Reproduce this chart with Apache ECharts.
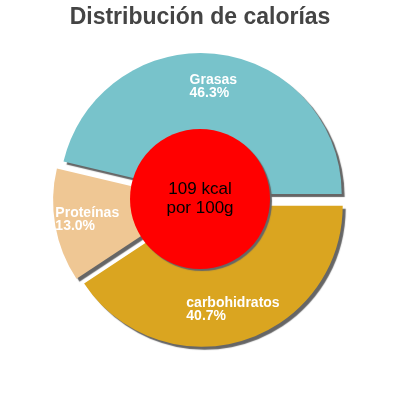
<!DOCTYPE html>
<html>
<head>
<meta charset="utf-8">
<script src="https://cdn.jsdelivr.net/npm/echarts@6/dist/echarts.min.js"></script>
<style>
html,body{margin:0;padding:0;background:#fff;}
#main{width:400px;height:400px;}
</style>
</head>
<body>
<div id="main"></div>
<script>
// datos de la tarta
var categories = ['Grasas', 'Proteínas', 'carbohidratos'];
var values = [46.3, 13.0, 40.7];
var colors = ['#78c3cb', '#efc794', '#daa520'];
var centerText = ['109 kcal', 'por 100g'];

var font = 'Liberation Sans, Arial, sans-serif';

var myChart = echarts.init(document.getElementById('main'));

function buildData(withColor) {
	var out = [];
	for (var i = 0; i < categories.length; i++) {
		out.push({
			name: categories[i],
			value: values[i],
			selected: true,
			itemStyle: withColor ? { color: colors[i] } : { color: 'rgba(0,0,0,0)' }
		});
	}
	return out;
}

var options = {
	animation: false,
	title: {
		text: 'Distribución de calorías',
		left: 'center',
		top: 1,
		textStyle: { fontFamily: font, fontSize: 23, fontWeight: 'bold', color: '#444' }
	},
	series: [
		{
			// porciones con sombra
			type: 'pie',
			silent: true,
			center: [200, 200],
			radius: [0, 141],
			startAngle: 0,
			clockwise: false,
			selectedMode: 'multiple',
			selectedOffset: 6,
			label: { show: false },
			labelLine: { show: false },
			itemStyle: {
				shadowColor: '#666',
				shadowBlur: 1,
				shadowOffsetX: 3,
				shadowOffsetY: 3
			},
			emphasis: { disabled: true },
			data: buildData(true)
		},
		{
			// solo las etiquetas
			type: 'pie',
			silent: true,
			center: [200, 200],
			radius: [70, 141],
			startAngle: 0,
			clockwise: false,
			selectedMode: 'multiple',
			selectedOffset: 6,
			labelLine: { show: false },
			label: {
				show: true,
				position: 'inside',
				formatter: function (p) {
					return '{t|' + p.name + '}\n{t|' + values[p.dataIndex].toFixed(1) + '%}';
				},
				rich: {
					t: { align: 'left', color: '#fff', fontFamily: font, fontSize: 14, fontWeight: 'bold', lineHeight: 13 }
				}
			},
			emphasis: { disabled: true },
			data: buildData(false)
		},
		{
			// circulo central
			type: 'pie',
			silent: true,
			center: [200, 199],
			radius: [0, 70],
			labelLine: { show: false },
			label: {
				show: true,
				position: 'center',
				formatter: centerText.join('\n'),
				fontFamily: font,
				fontSize: 17,
				lineHeight: 19,
				color: '#000'
			},
			itemStyle: {
				color: '#ff0000',
				shadowColor: '#666',
				shadowBlur: 1,
				shadowOffsetX: 2,
				shadowOffsetY: 2
			},
			emphasis: { disabled: true },
			data: [{ name: 'kcal', value: 1 }]
		}
	]
};

myChart.setOption(options);
</script>
</body>
</html>
